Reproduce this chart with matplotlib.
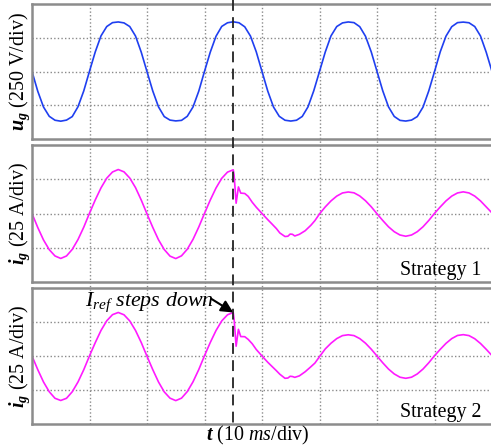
import matplotlib
matplotlib.use("Agg")
import matplotlib.pyplot as plt
import matplotlib.transforms as mtransforms

plt.rcParams['font.family'] = ['Liberation Serif', 'DejaVu Serif']
plt.rcParams['mathtext.fontset'] = 'custom'
plt.rcParams['mathtext.rm'] = 'Liberation Serif'
plt.rcParams['mathtext.it'] = 'Liberation Serif:italic'
plt.rcParams['mathtext.bf'] = 'Liberation Serif:italic:bold'

# ---------------- data ----------------
# grid voltage, sampled every 1 ms from 0 to 80 ms (V)
t_u = list(range(0, 81))
u_g = [0, -146, -263, -332, -361, -368, -360, -334, -261, -144,
       2, 145, 264, 333, 362, 367, 360, 333, 263, 143,
       -1, -144, -262, -334, -360, -366, -362, -332, -263, -146,
       1, 143, 261, 334, 361, 368, 361, 331, 262, 146,
       0, -145, -263, -332, -361, -367, -361, -333, -262, -143,
       0, 144, 264, 333, 360, 367, 362, 332, 261, 145,
       1, -143, -262, -333, -362, -367, -360, -334, -264, -144,
       -1, 146, 262, 332, 362, 366, 361, 333, 263, 142,
       0]

# grid current, strategy 1 (ms, A)
t_i1 = [0, 1, 2, 3, 4, 5, 6, 7, 8, 9, 10, 11, 12, 13, 14, 15, 16, 17, 18, 19,
        20, 21, 22, 23, 24, 25, 26, 27, 28, 29, 30, 31, 32, 33, 34, 35,
        35.15, 35.5, 35.9, 36.3, 37.0, 37.6, 38.3, 39.0, 40.0, 41.0, 41.7,
        42.5, 43.1, 44.0, 44.5, 44.9, 45.3, 45.7, 46.5, 47.5, 48.5, 49.2, 50,
        51, 52, 53, 54, 55, 56, 57, 58, 59, 60, 61, 62, 63, 64, 65, 66, 67,
        68, 69, 70, 71, 72, 73, 74, 75, 76, 77, 78, 79, 80]
i_g1 = [0, -10.2, -19.3, -26.4, -31.0, -32.8, -31.0, -26.2, -19.0, -10.0,
        0.2, 9.9, 18.7, 25.8, 30.3, 32.1, 30.4, 25.9, 18.9, 9.8,
        -0.3, -10.1, -19.2, -26.3, -31.1, -32.9, -30.9, -26.1, -18.9, -9.9,
        0.1, 9.8, 18.6, 25.7, 30.2, 31.9,
        28.0, 7.5, 19.4, 14.9, 14.6, 12.5, 8.2, 4.6, 0.0, -4.5, -7.5,
        -11.0, -14.2, -16.8, -16.6, -15.0, -15.2, -16.4, -15.2, -12.6, -8.6,
        -5.2, -0.3,
        4.8, 9.2, 12.7, 15.0, 15.7, 15.1, 12.8, 9.3, 4.9, -0.2, -5.1, -9.7,
        -13.3, -15.7, -16.6, -15.7, -13.3, -9.7, -5.1, 0.1, 4.8, 9.2, 12.7,
        15.0, 15.8, 15.0, 12.7, 9.2, 4.8, 0.4]

# grid current, strategy 2 (ms, A)
t_i2 = list(t_i1)
i_g2 = [0, -10.0, -19.1, -26.3, -31.1, -32.7, -31.1, -26.3, -19.1, -10.1,
        0.1, 9.8, 18.8, 25.9, 30.4, 32.0, 30.3, 25.8, 18.8, 9.9,
        -0.2, -10.0, -19.1, -26.4, -31.0, -32.8, -31.0, -26.2, -19.0, -10.0,
        0.2, 9.9, 18.7, 25.8, 30.3, 32.0,
        27.0, 7.2, 19.6, 14.3, 14.2, 12.2, 9.0, 4.8, 0.0, -4.6, -7.5,
        -10.8, -13.4, -16.4, -16.2, -14.9, -15.1, -15.7, -14.6, -11.6, -7.9,
        -5.2, -0.5,
        5.2, 9.4, 12.8, 15.0, 15.6, 15.0, 12.8, 9.4, 5.0, 0.0, -5.0, -9.6,
        -13.2, -15.6, -16.4, -15.6, -13.2, -9.6, -5.0, 0.2, 4.9, 9.3, 12.8,
        15.1, 15.7, 15.0, 12.7, 9.2, 4.9, 0.3]

t_step = 35
grid_t = [10, 20, 30, 40, 50, 60, 70]
labels = [r'$\mathbf{u}_{\mathbf{g}}$ (250 V/div)',
          r'$\mathbf{i}_{\mathbf{g}}$ (25 A/div)',
          r'$\mathbf{i}_{\mathbf{g}}$ (25 A/div)']
strategies = ['', 'Strategy 1', 'Strategy 2']
xlabel = r'$\mathbf{t}$ (10 $ms$/div)'
annot = r'$I_{ref}$ steps down'

# ---------------- figure ----------------
W, H = 491, 447
fig = plt.figure(figsize=(W / 100, H / 100), dpi=100)
fig.patch.set_facecolor('white')

def frac_rect(x0, y0, x1, y1):
    return [x0 / W, 1 - y1 / H, (x1 - x0) / W, (y1 - y0) / H]

gray = '#8c8c8c'
gridc = '#8a8a8a'
dots = (0, (1, 1.6))

# background axes carrying the continuous vertical grid lines
bg = fig.add_axes(frac_rect(32, 4, 492, 424))
bg.set_xlim(0, 80)
bg.set_ylim(0, 1)
bg.axis('off')
for g in grid_t:
    bg.axvline(g, color=gridc, lw=1.0, ls=dots, zorder=0)

rects = [(32, 4, 492, 139), (32, 145, 492, 282), (32, 288, 492, 424)]
series = [(t_u, u_g, '#1f3ff0', 500, 250),
          (t_i1, i_g1, '#ff1aff', 50, 25),
          (t_i2, i_g2, '#ff1aff', 50, 25)]
axes = []
for k, (r, (tx, yv, col, lim, div)) in enumerate(zip(rects, series)):
    ax = fig.add_axes(frac_rect(*r))
    ax.set_facecolor('none')
    ax.set_xlim(0, 80)
    ax.set_ylim(-lim, lim)
    for yy in (-div, 0, div):
        ax.axhline(yy, color=gridc, lw=1.0, ls=dots, zorder=0)
    ax.plot(tx, yv, color=col, lw=1.2, zorder=2)
    ax.set_xticks([])
    ax.set_yticks([])
    for s in ax.spines.values():
        s.set_color(gray)
        s.set_linewidth(1.8)
    yc = 1 - ((r[1] + r[3]) / 2) / H
    fig.text(20 / W, yc, labels[k], rotation=90, ha='center', va='center',
             fontsize=14.4)
    if strategies[k]:
        ax.text(0.977, 0.05, strategies[k], transform=ax.transAxes,
                ha='right', va='baseline', fontsize=14.4)
    axes.append(ax)

# dashed step line across all panels
trans = mtransforms.blended_transform_factory(axes[2].transData, fig.transFigure)
axes[2].plot([t_step, t_step], [1.0, 1 - 426 / H], transform=trans,
             color='#222222', lw=1.3, ls=(0, (6, 3.5)), clip_on=False, zorder=5)

# annotation in bottom panel
ax3 = axes[2]
ax3.text(9.2, 36.5, annot, fontsize=15.8, style='italic', ha='left',
         va='baseline')
ax3.annotate('', xy=(35.0, 32.0), xytext=(31.2, 42.0),
             arrowprops=dict(arrowstyle='-|>', color='black', lw=1.5,
                             mutation_scale=18, shrinkA=0, shrinkB=0))

fig.text(258 / W, 1 - 435 / H, xlabel, ha='center', va='center', fontsize=14.4)

fig.savefig('out.png', dpi=100, facecolor='white')
